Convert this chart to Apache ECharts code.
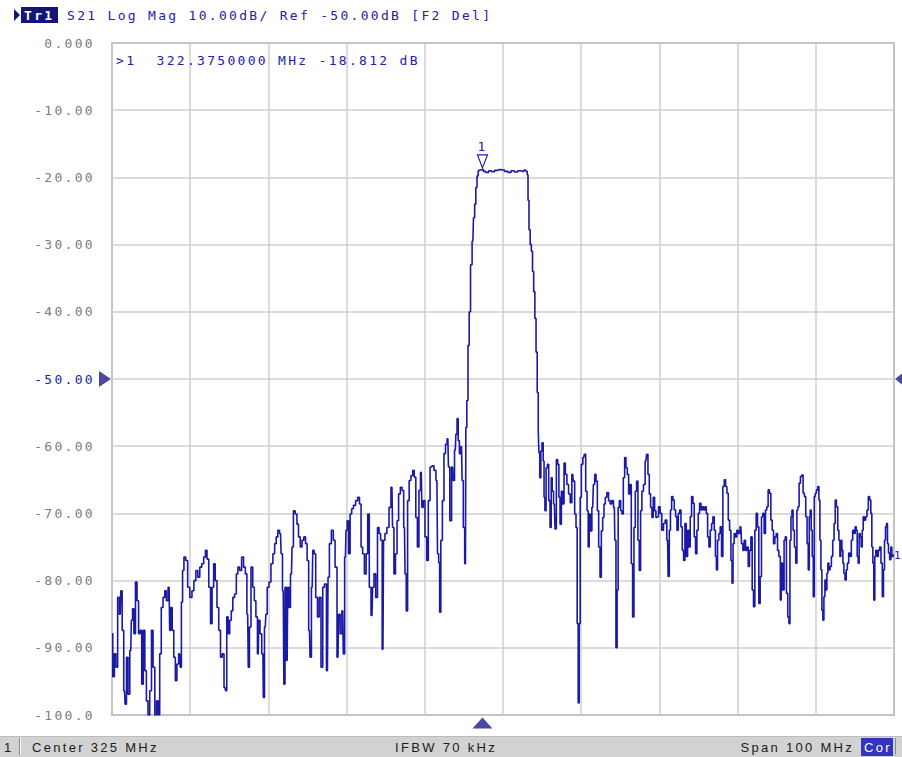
<!DOCTYPE html>
<html><head><meta charset="utf-8">
<script src="https://cdn.jsdelivr.net/npm/echarts@6/dist/echarts.min.js"></script>
<style>
html,body{margin:0;padding:0;background:#fff;}
#c{width:902px;height:757px;}
#c text{letter-spacing:2.3px;}
</style></head><body><div id="c"></div>
<script>
// ---- stimulus / scale ----
const startMHz = 275, stopMHz = 375;
const refLevelDb = -50;
const yTickLabels = ['0.000','-10.00','-20.00','-30.00','-40.00','-50.00','-60.00','-70.00','-80.00','-90.00','-100.0'];
const markerFreq = [322.375];
const markerDb = [-18.812];

// ---- trace: lower stopband ----
const freqLow = [
 275.0,275.2,275.4,275.6,275.85,276.05,276.2,276.4,276.6,276.75,
 276.95,277.15,277.4,277.55,277.7,277.9,278.1,278.3,278.5,278.7,
 278.9,279.1,279.3,279.5,279.7,279.95,280.15,280.35,280.6,280.8,
 281.0,281.2,281.4,281.65,281.85,282.05,282.3,282.45,282.6,282.8,
 283.0,283.2,283.4,283.65,283.8,283.95,284.1,284.3,284.55,284.8,
 285.1,285.35,285.6,285.85,286.1,286.35,286.6,286.85,287.05,287.25,
 287.5,287.7,287.9,288.1,288.3,288.55,288.75,289.0,289.2,289.45,
 289.6,289.75,289.95,290.15,290.35,290.55,290.8,291.0,291.2,291.45,
 291.7,291.95,292.15,292.35,292.5,292.65,292.9,293.1,293.3,293.5,
 293.7,293.85,294.0,294.3,294.4,294.6,294.75,294.95,295.2,295.45,
 295.7,295.9,296.1,296.3,296.55,296.7,296.9,297.05,297.2,297.4,
 297.55,297.7,297.95,298.1,298.3,298.55,298.75,298.95,299.2,299.4,
 299.65,299.85,300.05,300.25,300.4,300.6,300.75,300.95,301.15,301.4,
 301.6,301.85,302.05,302.3,302.55,302.7,302.9,303.2,303.4,303.65,
 303.9,304.05,304.3,304.5,304.65,304.85,305.0,305.15,305.35,305.55,
 305.75,306.0,306.3,306.55,306.75,306.95,307.15,307.4,307.6,307.8,
 308.0,308.25,308.4,308.6,308.85,309.05,309.25,309.45,309.65,309.8,
 310.0,310.3,310.55,310.8,310.95,311.15,311.35,311.55,311.75,312.0,
 312.2,312.4,312.55,312.7,312.9,313.1,313.35,313.55,313.75,313.95,
 314.15,314.35,314.55,314.7,314.9,315.15,315.35,315.55,315.8,316.05,
 316.3,316.55,316.7,316.85,316.95,317.15,317.35,317.55,317.75,317.95,
 318.1,318.3,318.55,318.7,318.9,319.05,319.2,319.35,319.5,319.7,
 319.85,320.0,320.2,320.3
];
const dbLow = [
 -87.9,-94.3,-90.9,-92.9,-82.5,-85.0,-81.5,-87.4,-96.4,-98.4,
 -91.4,-96.9,-90.4,-85.9,-84.2,-87.9,-80.2,-83.0,-87.9,-87.4,
 -95.4,-87.4,-93.4,-97.9,-100,-96.4,-87.4,-92.9,-100,-97.9,
 -100,-90.9,-84.0,-82.5,-81.5,-83.0,-81.0,-87.4,-84.0,-87.4,
 -91.4,-94.9,-92.4,-90.9,-92.9,-83.2,-78.5,-76.5,-77.0,-81.0,
 -82.5,-81.5,-80.0,-78.5,-79.5,-78.0,-77.5,-76.5,-75.5,-76.8,
 -81.0,-86.4,-81.0,-77.5,-80.0,-84.0,-87.4,-91.4,-90.9,-95.9,
 -96.4,-85.4,-87.9,-85.9,-84.5,-82.5,-82.0,-79.0,-78.0,-78.5,
 -76.5,-78.0,-79.0,-85.0,-92.9,-86.9,-78.0,-81.0,-83.0,-85.4,
 -90.9,-85.9,-87.9,-90.9,-97.4,-86.9,-85.0,-81.0,-80.2,-77.5,
 -76.0,-74.5,-73.5,-72.5,-73.0,-76.0,-81.5,-95.4,-81.0,-91.9,
 -81.0,-84.0,-79.0,-75.0,-69.6,-70.1,-71.6,-73.5,-75.0,-74.0,
 -73.5,-74.5,-77.0,-87.4,-91.4,-81.0,-75.5,-76.0,-82.5,-85.4,
 -82.5,-92.9,-81.0,-80.5,-93.4,-79.5,-74.5,-72.5,-74.0,-78.0,
 -91.4,-85.0,-87.9,-84.5,-90.9,-76.5,-72.5,-71.1,-76.0,-70.1,
 -69.3,-68.8,-68.1,-67.6,-68.6,-75.0,-76.0,-79.0,-76.0,-70.1,
 -81.0,-85.2,-81.0,-79.0,-82.5,-72.1,-73.0,-74.0,-90.2,-74.0,
 -73.0,-72.1,-69.1,-66.1,-72.1,-79.0,-76.0,-71.1,-67.1,-66.1,
 -66.6,-72.1,-79.0,-84.5,-68.1,-65.1,-64.4,-63.6,-64.6,-70.6,
 -75.0,-66.6,-63.9,-69.1,-68.1,-73.5,-77.0,-68.1,-63.1,-62.9,
 -63.6,-65.1,-76.0,-77.3,-84.7,-74.0,-68.1,-61.1,-59.7,-58.9,
 -63.1,-71.1,-63.1,-65.1,-60.6,-58.2,-55.9,-59.2,-61.1,-60.1,
 -65.1,-72.1,-77.5,-57.2
];

// ---- trace: skirts and passband ----
const freqPass = [
 320.45,320.6,320.75,320.95,321.15,321.3,321.45,321.6,321.75,321.9,
 322.0,322.375,322.6,322.98,323.36,323.7,324.13,324.55,324.98,325.4,
 325.83,326.25,326.68,327.1,327.5,327.87,328.05,328.15,328.25,328.4,
 328.55,328.7,328.85,329.0,329.15,329.3,329.45
];
const dbPass = [
 -53.2,-45.0,-40.0,-33.0,-29.5,-26.0,-24.0,-21.5,-19.8,-19.0,
 -18.9,-18.812,-19.1,-19.25,-19.0,-19.15,-18.95,-18.85,-18.9,-19.1,
 -19.25,-19.0,-19.2,-19.0,-19.1,-18.9,-19.1,-19.6,-23.4,-27.8,
 -30.0,-31.0,-34.0,-37.0,-41.0,-46.0,-52.0
];

// ---- trace: upper stopband ----
const freqHigh = [
 329.57,329.62,329.78,329.9,330.08,330.2,330.3,330.42,330.6,330.76,
 330.93,331.1,331.23,331.36,331.57,331.74,331.91,332.08,332.21,332.38,
 332.55,332.72,332.89,333.06,333.28,333.49,333.7,333.91,334.08,334.25,
 334.42,334.55,334.68,334.8,334.94,335.1,335.32,335.49,335.66,335.83,
 335.96,336.09,336.26,336.47,336.64,336.81,336.98,337.15,337.32,337.49,
 337.66,337.83,338.0,338.17,338.39,338.6,338.81,339.02,339.24,339.36,
 339.53,339.66,339.79,339.96,340.13,340.3,340.47,340.64,340.81,340.98,
 341.15,341.32,341.49,341.66,341.83,342.0,342.17,342.34,342.51,342.68,
 342.85,343.07,343.28,343.45,343.62,343.79,343.96,344.13,344.3,344.47,
 344.64,
 344.78,344.99,345.2,345.41,345.63,345.84,346.05,346.18,346.35,346.48,
 346.65,346.82,346.99,347.16,347.33,347.5,347.67,347.84,348.01,348.18,
 348.35,348.52,348.69,348.86,349.03,349.2,349.37,349.54,349.71,349.88,
 350.05,350.22,350.4,350.57,350.74,350.91,351.08,351.25,351.42,351.59,
 351.76,351.93,352.1,352.23,352.35,352.52,352.69,352.86,353.03,353.2,
 353.38,353.55,353.72,353.89,354.06,354.23,354.35,354.48,354.65,354.82,
 354.99,355.2,355.42,355.59,355.76,355.93,356.1,356.27,356.44,356.61,
 356.78,356.95,357.12,357.29,357.46,357.63,357.8,357.97,358.14,358.31,
 358.48,358.65,358.82,358.99,359.16,359.34,359.51,359.68,359.85,360.02,
 360.19,360.36,
 360.57,360.69,360.86,361.03,361.16,361.33,361.5,361.63,361.76,361.89,
 362.01,362.18,362.35,362.52,362.65,362.78,362.95,363.12,363.29,363.46,
 363.63,363.8,363.97,364.1,364.23,364.35,364.48,364.61,364.74,364.87,
 364.99,365.16,365.33,365.46,365.59,365.72,365.84,365.97,366.1,366.23,
 366.36,366.48,366.61,366.74,366.91,367.08,367.25,367.42,367.55,367.72,
 367.89,368.02,368.14,368.27,368.4,368.53,368.65,368.82,368.95,369.12,
 369.29,369.46,369.63,369.8,369.97,370.1,370.23,370.36,370.48,370.61,
 370.74,370.87,371.0,371.12,371.29,371.46,371.63,371.8,371.97,372.1,
 372.23,372.36,372.48,372.61,372.74,372.91,373.08,373.25,373.42,373.59,
 373.72,373.85,373.98,374.1,374.23,374.36,374.53,374.66,374.78,375.0
];
const dbHigh = [
 -57.8,-61.0,-64.7,-60.7,-59.5,-62.2,-67.6,-69.6,-63.2,-62.7,
 -68.1,-72.1,-64.7,-66.7,-68.6,-72.3,-62.0,-62.7,-67.6,-71.6,
 -66.7,-68.6,-62.5,-64.2,-65.7,-67.1,-68.4,-64.2,-65.2,-70.1,
 -72.1,-86.4,-98.2,-86.4,-67.6,-62.7,-61.7,-61.2,-66.7,-69.6,
 -75.0,-70.1,-72.6,-69.1,-65.7,-64.2,-65.2,-69.6,-75.0,-79.5,
 -72.6,-70.6,-68.6,-67.6,-66.9,-68.1,-68.6,-68.1,-69.1,-74.0,
 -90.0,-81.4,-69.1,-68.1,-69.6,-70.1,-64.7,-61.7,-63.2,-64.2,
 -67.1,-65.7,-77.5,-85.4,-72.1,-66.7,-65.2,-74.0,-78.5,-69.6,
 -66.7,-65.7,-62.2,-61.2,-64.2,-67.1,-69.1,-70.6,-67.6,-69.6,
 -70.6,
 -70.5,-69.0,-70.0,-72.5,-71.5,-71.0,-74.0,-79.4,-72.5,-69.5,
 -67.5,-68.0,-69.5,-70.5,-72.5,-70.0,-69.5,-72.0,-75.5,-77.0,
 -71.5,-76.4,-72.5,-75.0,-70.5,-67.5,-68.5,-73.5,-76.0,-72.5,
 -70.0,-68.5,-69.5,-69.0,-69.5,-69.0,-70.0,-73.5,-75.0,-72.5,
 -71.5,-70.5,-72.5,-76.4,-78.4,-74.0,-73.0,-72.0,-76.4,-66.0,
 -65.0,-66.0,-67.0,-71.0,-72.5,-77.0,-80.4,-74.5,-73.0,-73.5,
 -72.5,-73.0,-72.0,-74.5,-75.5,-74.0,-75.5,-75.0,-77.9,-75.5,
 -73.5,-81.4,-83.9,-72.5,-70.0,-72.0,-83.4,-79.4,-70.5,-70.0,
 -73.0,-69.5,-69.0,-66.5,-67.0,-71.0,-72.5,-74.5,-73.5,-73.0,
 -75.5,-76.4,
 -82.9,-77.4,-81.4,-74.0,-73.5,-81.9,-85.4,-86.4,-74.0,-70.5,
 -69.5,-72.5,-75.0,-77.4,-69.5,-69.0,-65.5,-64.5,-64.3,-67.0,
 -67.5,-70.5,-74.5,-78.4,-70.5,-69.5,-72.5,-76.4,-82.4,-67.5,
 -67.0,-66.5,-66.0,-68.0,-74.0,-78.4,-84.4,-85.9,-82.4,-79.9,
 -81.4,-78.9,-77.4,-78.4,-77.9,-76.4,-74.0,-71.5,-68.0,-69.0,
 -72.5,-74.0,-76.4,-74.0,-75.5,-77.4,-78.9,-79.9,-78.4,-77.4,
 -75.9,-76.4,-74.0,-72.5,-73.0,-72.0,-72.5,-76.4,-77.4,-73.0,
 -73.5,-75.0,-72.5,-70.5,-71.0,-70.5,-69.5,-67.5,-68.0,-70.0,
 -75.0,-77.4,-82.9,-76.4,-75.5,-76.4,-75.5,-75.0,-77.4,-82.4,
 -78.4,-74.0,-72.0,-71.5,-74.5,-75.9,-76.9,-75.0,-76.4,-76.2
];

// ---- texts ----
const titleText = 'S21 Log Mag 10.00dB/ Ref -50.00dB [F2 Del]';
const statusTexts = ['1', 'Center 325 MHz', 'IFBW 70 kHz', 'Span 100 MHz', 'Cor'];

const freqMHz = freqLow.concat(freqPass, freqHigh);
const s21dB = dbLow.concat(dbPass, dbHigh);
const traceData = freqMHz.map((f, i) => [f, s21dB[i]]);

const blue = '#2222a6';
const traceColor = '#1a1aa6';
const mono = '"DejaVu Sans Mono", monospace';
const sans = '"Liberation Sans", Arial, sans-serif';

const chart = echarts.init(document.getElementById('c'), null, {renderer: 'svg', width: 902, height: 757});

const readout = '>1  ' + markerFreq[0].toFixed(7) + ' MHz ' + markerDb[0].toFixed(3) + ' dB';

chart.setOption({
  animation: false,
  backgroundColor: '#ffffff',
  grid: {left: 112, top: 43, width: 782, height: 672, show: true,
         borderColor: '#858585', borderWidth: 1.5, backgroundColor: '#ffffff'},
  xAxis: {type: 'value', min: startMHz, max: stopMHz, interval: 10,
          axisLine: {show: false}, axisTick: {show: false}, axisLabel: {show: false},
          splitLine: {show: true, lineStyle: {color: '#cfcfcf', width: 1.5}}},
  yAxis: {type: 'value', min: -100, max: 0, interval: 10,
          axisLine: {show: false}, axisTick: {show: false},
          splitLine: {show: true, lineStyle: {color: '#cfcfcf', width: 1.5}},
          axisLabel: {margin: 17, showMinLabel: true, showMaxLabel: true,
                      fontFamily: mono, fontSize: 13,
                      formatter: (v) => yTickLabels[Math.round(-Number(v) / 10)],
                      color: (v) => Number(v) === refLevelDb ? blue : '#7c7c7c'}},
  series: [
    {
      type: 'line', data: traceData, showSymbol: false, symbol: 'none', silent: true,
      step: 'middle',
      lineStyle: {color: traceColor, width: 1.6}, z: 3,
      endLabel: {show: true, formatter: '1', color: blue, fontFamily: mono, fontSize: 11, distance: 0},
      markPoint: {
        symbol: 'path://M0 0L10 0L5 13Z', symbolSize: [10, 13], symbolOffset: [0, -8],
        itemStyle: {color: '#ffffff', borderColor: blue, borderWidth: 1.2},
        label: {show: true, position: 'top', distance: 1, formatter: '1', color: blue,
                fontFamily: mono, fontSize: 13},
        data: [{coord: [markerFreq[0], markerDb[0]]}]
      }
    },
    {
      type: 'scatter', clip: false, silent: true, z: 5,
      symbol: 'path://M0 0L10 6L0 12Z', symbolSize: [12, 16], symbolOffset: [-7, 0],
      itemStyle: {color: '#1a1a8c'}, data: [[startMHz, refLevelDb]]
    },
    {
      type: 'scatter', clip: false, silent: true, z: 5,
      symbol: 'path://M10 0L0 6L10 12Z', symbolSize: [10, 16], symbolOffset: [6, 0],
      itemStyle: {color: '#1a1a8c'}, data: [[stopMHz, refLevelDb]]
    },
    {
      type: 'scatter', clip: false, silent: true, z: 5,
      symbol: 'path://M0 10L5 0L10 10Z', symbolSize: [20, 11], symbolOffset: [0, 8],
      itemStyle: {color: '#1a1a8c'}, data: [[markerFreq[0], -100]]
    }
  ],
  graphic: [
    {type: 'polygon', shape: {points: [[14, 9], [20, 15], [14, 21]]}, style: {fill: '#14147e'}},
    {type: 'rect', shape: {x: 21, y: 7, width: 37, height: 16}, style: {fill: '#14147a'}},
    {type: 'text', x: 24, y: 15, style: {text: 'Tr1', fill: '#ffffff', font: 'bold 13px ' + mono,
       verticalAlign: 'middle', textVerticalAlign: 'middle'}},
    {type: 'text', x: 67, y: 15, style: {text: titleText, fill: blue, font: '13px ' + mono,
       verticalAlign: 'middle', textVerticalAlign: 'middle'}},
    {type: 'text', x: 116, y: 60, z: 10, style: {text: readout, fill: blue, font: '13px ' + mono,
       verticalAlign: 'middle', textVerticalAlign: 'middle'}},
    // status bar
    {type: 'rect', shape: {x: 0, y: 736, width: 902, height: 21}, style: {fill: '#d2d2d2'}},
    {type: 'rect', shape: {x: 0, y: 736, width: 902, height: 1}, style: {fill: '#bcbcbc'}},
    {type: 'rect', shape: {x: 19, y: 738, width: 1, height: 17}, style: {fill: '#8c8c8c'}},
    {type: 'rect', shape: {x: 20, y: 738, width: 1, height: 17}, style: {fill: '#f4f4f4'}},
    {type: 'text', x: 4, y: 747, style: {text: statusTexts[0], fill: '#1a1a1a', font: '13px ' + sans,
       verticalAlign: 'middle', textVerticalAlign: 'middle'}},
    {type: 'text', x: 32, y: 747, style: {text: statusTexts[1], fill: '#1a1a1a', font: '13px ' + sans,
       verticalAlign: 'middle', textVerticalAlign: 'middle'}},
    {type: 'text', x: 446, y: 747, style: {text: statusTexts[2], fill: '#1a1a1a', font: '13px ' + sans,
       align: 'center', textAlign: 'center', verticalAlign: 'middle', textVerticalAlign: 'middle'}},
    {type: 'text', x: 854, y: 747, style: {text: statusTexts[3], fill: '#1a1a1a', font: '13px ' + sans,
       align: 'right', textAlign: 'right', verticalAlign: 'middle', textVerticalAlign: 'middle'}},
    {type: 'rect', shape: {x: 861, y: 738, width: 32, height: 18}, style: {fill: '#3434bc'}},
    {type: 'text', x: 878, y: 747, style: {text: statusTexts[4], fill: '#ffffff', font: '13px ' + sans,
       align: 'center', textAlign: 'center', verticalAlign: 'middle', textVerticalAlign: 'middle'}},
    {type: 'rect', shape: {x: 895, y: 738, width: 1, height: 17}, style: {fill: '#8c8c8c'}}
  ]
});
</script></body></html>
